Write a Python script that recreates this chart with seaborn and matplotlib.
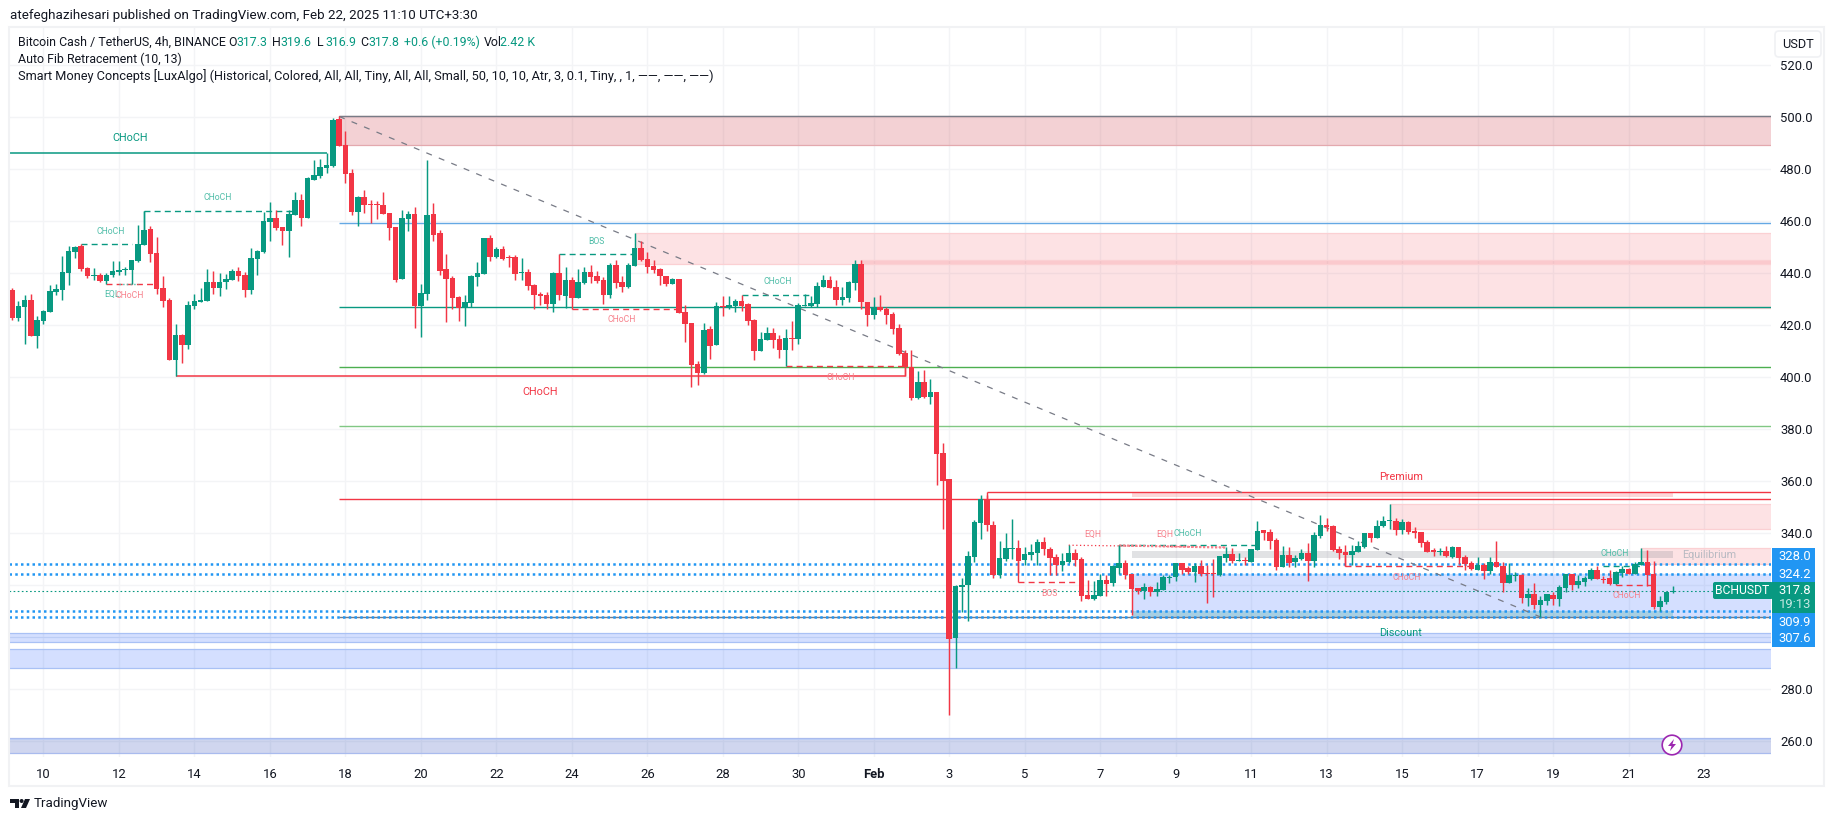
import numpy as np
import pandas as pd
import matplotlib
matplotlib.use("Agg")
import matplotlib.pyplot as plt
from matplotlib.patches import Rectangle, Circle, Polygon, FancyBboxPatch
import seaborn as sns

# BCHUSDT 4h candles, first one is Jan 9 04:00
opens = [
    433.5,422.7,426.9,429.6,415.8,421.5,425.0,432.7,433.5,440.0,
    448.1,450.4,441.9,438.9,439.2,436.9,439.2,440.4,441.2,441.2,
    444.6,450.8,456.9,447.7,434.2,429.6,406.5,416.2,412.3,427.3,
    428.9,429.2,436.5,434.2,436.5,437.3,440.8,439.2,433.5,445.4,
    448.1,459.6,461.2,457.7,456.2,462.3,468.1,461.2,475.8,477.3,
    480.4,481.2,499.2,489.2,478.5,463.5,469.2,466.5,466.5,466.2,
    463.1,457.7,437.7,460.8,462.7,427.3,431.9,462.7,455.4,441.5,
    438.1,430.8,426.5,428.5,438.5,439.6,453.5,446.2,449.2,446.2,
    446.2,440.0,440.4,435.4,431.9,431.5,428.1,440.0,431.2,437.3,
    430.4,436.2,440.4,438.9,437.3,431.5,443.1,436.5,434.6,442.7,
    449.6,445.4,442.7,441.5,438.9,435.8,437.7,425.0,420.8,405.0,
    401.5,418.5,412.3,427.3,426.5,427.3,429.2,428.1,421.9,410.0,
    414.2,416.9,414.6,410.4,415.0,414.6,427.3,427.3,428.1,434.6,
    437.3,434.6,429.6,430.4,436.2,443.5,428.9,423.9,426.9,426.2,
    424.2,418.9,409.2,403.8,391.9,398.1,392.3,394.2,370.8,360.8,
    299.6,319.2,320.0,330.8,343.9,353.1,343.1,323.9,330.0,333.9,
    334.2,329.6,331.5,332.3,336.5,333.9,330.8,327.7,328.9,332.3,
    330.0,316.2,314.6,315.8,321.9,320.8,326.5,328.5,324.2,318.9,
    317.7,319.2,317.3,318.1,322.7,323.1,328.5,326.5,325.0,327.3,
    324.6,324.6,323.9,330.4,331.9,329.2,329.2,328.9,333.5,341.2,
    340.4,337.3,326.9,331.5,328.9,330.0,332.3,329.2,338.9,343.1,
    342.7,333.9,332.7,331.5,332.7,334.6,340.0,338.1,342.7,344.6,
    344.6,341.2,344.2,340.8,340.4,336.5,333.5,332.7,333.1,330.8,
    334.6,330.8,328.5,325.8,327.7,325.4,328.8,327.3,320.8,323.5,
    323.9,315.0,316.5,312.3,313.8,316.2,314.6,318.8,324.2,320.0,
    321.2,322.3,325.8,322.3,322.7,320.4,324.6,326.2,324.2,327.7,
    328.8,324.2,311.5,313.5,317.3]
highs = [
    434.4,429.2,431.5,431.9,423.5,425.8,435.4,435.8,446.5,450.4,
    450.4,451.2,442.3,441.9,440.0,440.0,444.6,444.6,442.3,445.0,
    458.5,463.9,458.1,453.9,438.9,430.4,420.4,416.5,429.2,431.9,
    434.2,441.5,440.8,440.0,439.6,441.5,442.3,440.4,449.6,448.9,
    463.5,467.3,464.2,457.7,464.2,471.2,470.4,476.9,483.5,483.9,
    486.0,499.5,500.3,494.6,480.0,469.6,471.9,468.1,467.7,471.2,
    463.1,457.7,464.2,463.9,465.4,435.8,483.5,466.9,456.5,447.3,
    438.9,431.2,431.5,439.2,444.2,453.5,454.6,450.0,450.4,446.9,
    446.9,445.8,441.5,435.8,432.7,432.7,440.4,447.3,442.3,438.5,
    441.5,442.3,443.1,440.8,438.5,443.9,445.0,438.9,443.9,455.4,
    452.3,448.1,445.0,441.9,438.9,438.1,437.7,427.7,420.8,406.2,
    420.8,419.6,428.9,431.2,431.2,430.0,431.5,428.5,422.3,417.3,
    419.2,418.9,416.2,418.5,421.5,428.5,431.9,431.2,436.5,439.2,
    438.9,437.3,434.6,436.9,445.0,445.0,428.9,430.8,431.5,426.9,
    425.0,420.4,410.4,410.4,402.3,402.7,399.2,394.2,374.6,360.8,
    320.0,322.7,333.1,345.0,354.6,354.6,344.6,336.9,340.0,345.4,
    337.3,334.6,335.8,337.7,338.5,334.6,331.9,332.3,335.4,333.9,
    330.8,321.9,321.5,324.2,323.9,327.7,335.4,329.6,324.2,318.9,
    320.8,319.6,321.2,323.9,323.9,328.5,328.5,327.3,328.5,329.6,
    327.7,330.0,331.2,334.6,334.2,332.3,330.8,333.9,344.6,341.2,
    341.5,338.1,335.0,334.6,331.5,333.9,336.1,340.4,346.9,345.8,
    343.1,335.0,335.4,335.4,336.9,340.0,340.0,345.0,346.5,351.2,
    345.8,345.4,344.6,342.3,340.4,337.3,334.2,334.2,335.0,335.0,
    334.6,331.5,329.2,330.8,328.5,330.8,336.9,328.8,328.5,325.0,
    324.2,318.8,320.8,315.8,316.5,317.3,320.0,324.2,324.2,323.9,
    323.5,326.5,327.3,323.5,325.8,325.4,327.3,326.5,328.8,334.2,
    333.5,329.2,315.8,317.3,319.6]
lows = [
    421.9,421.5,412.7,415.8,411.2,420.4,425.0,431.5,429.6,435.4,
    445.8,440.8,438.1,437.3,436.5,435.8,438.5,439.2,439.2,435.8,
    444.2,450.8,444.2,431.9,426.9,406.5,400.4,405.4,410.8,426.2,
    428.9,429.2,431.9,431.2,433.9,437.3,436.9,430.8,431.9,439.2,
    447.7,452.3,456.5,450.8,446.2,462.3,458.1,461.2,475.8,476.5,
    478.3,480.8,488.9,474.6,462.3,458.1,463.1,459.2,460.8,462.7,
    452.7,436.5,437.7,456.2,418.9,415.4,429.6,452.3,439.2,421.2,
    426.2,421.5,419.6,426.9,435.0,439.6,444.6,445.8,445.0,442.3,
    437.3,437.3,433.5,426.2,427.7,426.2,425.0,429.6,426.5,426.2,
    430.4,435.8,436.2,436.2,428.1,430.4,434.2,432.7,434.2,442.7,
    444.6,440.0,440.0,435.4,435.0,435.8,424.6,413.5,396.2,396.9,
    401.2,406.9,412.3,423.5,426.2,425.0,425.4,420.0,406.5,410.0,
    414.2,411.2,407.3,404.2,410.4,412.7,427.3,426.9,426.9,434.6,
    434.2,427.7,427.7,428.9,433.5,426.2,419.6,422.3,425.4,420.4,
    416.5,408.5,400.4,391.2,391.5,391.9,389.6,358.5,341.5,270.0,
    288.1,309.6,306.2,328.9,337.7,340.8,322.7,322.7,329.2,330.0,
    324.5,327.7,329.6,327.7,331.5,323.9,323.9,325.4,328.5,327.3,
    313.9,314.6,314.2,315.8,315.8,319.6,324.2,322.3,308.5,316.5,
    314.6,315.8,315.8,318.1,320.8,321.5,324.2,324.2,321.2,323.5,
    313.1,315.4,323.5,328.9,328.5,329.2,327.7,328.9,333.5,337.3,
    333.9,325.8,326.9,326.9,326.9,329.6,321.5,326.9,338.1,340.8,
    333.1,330.0,327.3,327.7,332.7,334.2,336.5,338.1,342.3,341.5,
    339.2,339.6,339.6,338.1,334.6,332.7,331.2,331.5,330.8,330.4,
    328.1,325.8,325.8,325.8,322.3,324.2,326.9,317.3,320.8,321.5,
    313.1,311.9,310.8,307.7,312.3,312.3,311.9,317.3,318.1,318.8,
    319.6,321.9,322.3,320.8,320.0,320.4,323.1,324.2,324.2,327.7,
    319.6,310.8,310.0,312.7,316.9]
closes = [
    422.7,427.3,429.6,415.8,421.9,425.4,433.1,433.9,440.4,448.5,
    450.0,441.5,438.9,439.2,436.9,439.2,440.8,441.2,441.5,445.0,
    451.2,456.5,447.3,433.9,429.2,406.5,416.2,412.3,427.7,429.2,
    429.6,436.5,434.2,436.5,437.7,440.8,438.9,433.5,445.8,448.5,
    460.0,461.2,457.3,456.2,462.7,468.1,461.2,476.5,477.7,480.8,
    481.5,498.9,488.9,478.1,463.5,469.2,466.2,466.2,466.2,462.7,
    457.3,437.3,461.2,462.7,427.3,432.3,462.3,454.6,440.8,437.7,
    430.4,426.5,428.9,438.9,440.0,453.5,446.2,449.2,445.4,445.8,
    439.6,440.4,435.0,431.5,431.2,428.1,440.0,431.5,437.3,430.4,
    436.5,440.4,438.5,436.9,431.5,443.1,436.2,434.6,443.1,449.6,
    445.0,442.3,441.2,438.9,435.8,437.7,424.6,420.4,404.6,401.5,
    418.1,411.9,427.3,426.9,427.7,429.2,427.3,421.5,410.0,414.6,
    416.9,414.2,410.4,415.0,414.6,427.7,427.7,428.5,435.0,437.3,
    434.2,429.6,430.8,436.5,443.5,428.9,423.9,426.9,425.8,423.9,
    418.5,408.9,403.7,391.8,398.1,392.3,394.2,370.4,360.0,299.2,
    319.6,320.0,331.2,344.2,353.1,343.1,323.9,330.4,334.2,334.2,
    329.2,331.9,332.7,336.5,333.9,330.4,327.7,329.2,332.3,329.6,
    315.8,314.6,316.2,321.9,320.4,327.3,328.5,323.9,318.5,317.7,
    319.2,317.3,318.5,323.1,323.1,328.5,325.8,325.0,327.3,324.2,
    324.2,324.2,331.2,331.9,329.2,329.6,329.1,333.9,340.8,340.0,
    336.9,326.9,331.5,328.5,330.4,332.3,329.2,339.2,343.1,342.3,
    333.5,332.3,331.5,333.1,335.0,340.0,338.1,342.7,344.6,345.0,
    341.2,344.2,340.4,340.0,336.1,332.7,332.7,333.1,331.2,334.6,
    330.4,328.1,326.2,327.7,325.4,328.8,326.9,320.8,323.9,323.9,
    315.0,316.5,312.3,314.2,316.5,314.6,319.2,324.2,320.0,321.5,
    322.7,325.8,322.3,321.9,320.4,325.0,326.2,324.2,328.1,328.8,
    323.9,311.5,313.8,317.3,317.8]

date_labels = ["10", "12", "14", "16", "18", "20", "22", "24", "26", "28", "30", "Feb",
               "3", "5", "7", "9", "11", "13", "15", "17", "19", "21", "23"]
date_ticks = [5 + 12 * i for i in range(len(date_labels))]
price_ticks = list(range(260, 521, 20))

# zones: start bar (None = left edge), low, high, fill, alpha, edge
zone_start = [52, 99, 135, 219, 259, 178, None, None, None]
zone_low = [489.2, 443.3, 426.7, 341.7, 328.0, 307.7, 298.0, 288.0, 255.4]
zone_high = [500.2, 455.3, 444.9, 351.0, 334.2, 324.2, 301.4, 295.3, 261.0]
zone_fill = ["#d04a55", "#f23645", "#f23645", "#f23645", "#f23645", "#2962ff",
             "#2962ff", "#2962ff", "#2948b8"]
zone_alpha = [0.25, 0.14, 0.14, 0.14, 0.14, 0.2, 0.2, 0.2, 0.22]
zone_edge = ["#e3a9ae", "#fbd0d3", "#fbd0d3", "#fbd0d3", "#fbd0d3", "#d4e2fb",
             "#a9c1f5", "#a9c1f5", "#a9bbee"]

# auto fib levels, all start at the swing high
fib_levels = [500.2, 459.1, 426.8, 403.7, 381.0, 353.0, 307.7]
fib_colors = ["#787b86", "#64a8e4", "#089981", "#4caf50", "#81c784", "#f23645", "#787b86"]

# price lines on the right scale
blue_levels = [328.0, 324.2, 309.9, 307.6]
last_close = 317.8

# structure lines: start bar, end bar, price
green_dash = [(11, 19, 451.0), (21, 45, 463.85), (87, 99, 447.2), (116, 127, 431.4),
              (176, 198, 335.3), (253, 259, 327.2)]
red_dash = [(15, 23, 435.8), (89, 106, 426.0), (123, 142, 404.1), (160, 170, 321.0),
            (212, 232, 327.2), (255, 261, 319.9)]

swing_bars = [52, 243]
swing_prices = [500.2, 307.7]

df = pd.DataFrame({"open": opens, "high": highs, "low": lows, "close": closes})
df["bar"] = np.arange(len(df))
df["bottom"] = df[["open", "close"]].min(axis=1)
df["body"] = (df["open"] - df["close"]).abs().clip(lower=0.45)
up = df[df["close"] >= df["open"]]
down = df[df["close"] < df["open"]]

GREEN = "#089981"
RED = "#f23645"
BLUE = "#2196f3"
TEXT = "#131722"
SOFT_GREEN = "#4fbda8"
SOFT_RED = "#f7808b"

sns.set_theme(style="white", rc={"axes.edgecolor": "white"})
plt.rcParams["font.family"] = ["Roboto", "DejaVu Sans"]

fig = plt.figure(figsize=(18.35, 8.21), dpi=100, facecolor="white")
ax = fig.add_axes([9 / 1835, 1 - 757 / 821, (1771 - 9) / 1835, (757 - 27) / 821])
x_min, x_max = -0.48, 279.65

# zones
for start, low, high, fill, alpha, edge in zip(zone_start, zone_low, zone_high, zone_fill, zone_alpha, zone_edge):
    x0 = x_min if start is None else start
    ax.fill_between([x0, x_max], low, high, color=fill, alpha=alpha, lw=0, zorder=1)
    ax.hlines([low, high], x0, x_max, color=edge, lw=0.9, zorder=1.1)
ax.hlines([300.0, 260.7], x_min, x_max, color="#bccdf5", lw=0.7, zorder=1.1)

# premium, equilibrium and discount boxes
ax.fill_between([178, 264], 353.8, 355.5, color=RED, alpha=0.2, lw=0, zorder=1)
ax.fill_between([178, 264], 330.5, 333.1, color="#787b86", alpha=0.22, lw=0, zorder=1)
ax.fill_between([178, 264], 307.8, 310.0, color=GREEN, alpha=0.22, lw=0, zorder=1)

# fib levels
for level, color in zip(fib_levels, fib_colors):
    ax.hlines(level, 52, x_max, color=color, lw=1.0, zorder=2)
ax.hlines(355.6, 155, x_max, color=RED, lw=1.0, zorder=2)
ax.vlines(155, 353, 355.6, color=RED, lw=1.0, zorder=2)

# price lines
ax.hlines(blue_levels, x_min, x_max, color=BLUE, lw=1.8, linestyles=[(0, (1.0, 1.3))], zorder=2.5)
ax.hlines(last_close, x_min, x_max, color=GREEN, lw=0.8, linestyles=[(0, (1.5, 2.2))], zorder=2.5)

# CHoCH lines
ax.hlines(486, x_min, 50, color=GREEN, lw=1.1, zorder=2.5)
ax.hlines(400.3, 26, 142, color=RED, lw=1.1, zorder=2.5)

for start, end, price in green_dash:
    ax.hlines(price, start, end, color=GREEN, lw=1.0, linestyles=[(0, (4.3, 3))], zorder=2.6)
for start, end, price in red_dash:
    ax.hlines(price, start, end, color=RED, lw=1.0, linestyles=[(0, (4.3, 3))], zorder=2.6)

# steps at the start of the dashed lines
ax.vlines([21, 176], [456.5, 328.5], [463.85, 335.3], color=GREEN, lw=1.0, zorder=2.6)
ax.vlines([142, 160, 212, 255, 261], [400.3, 321.0, 327.2, 319.9, 319.9],
          [404.1, 329.2, 331.5, 322.0, 323.9], color=RED, lw=1.0, zorder=2.6)

# equal highs
ax.plot([168, 193], [335.3, 334.5], color=RED, lw=0.9, ls=(0, (1, 2)), zorder=2.6)
ax.plot([176, 193], [335.2, 334.4], color=SOFT_RED, lw=1.6, ls=(0, (1, 0.8)), zorder=2.6)
ax.hlines(435.8, 17, 20, color=SOFT_GREEN, lw=1.0, linestyles=":", zorder=2.6)

# fib trend line
trend = pd.DataFrame({"bar": swing_bars, "price": swing_prices})
sns.lineplot(data=trend, x="bar", y="price", ax=ax, color="#787b86", lw=0.9,
             linestyle=(0, (4.8, 6.0)), zorder=3, errorbar=None)

# candles
ax.vlines(up["bar"], up["low"], up["high"], color=GREEN, lw=1.05, zorder=4)
ax.vlines(down["bar"], down["low"], down["high"], color=RED, lw=1.05, zorder=4)
sns.barplot(data=up, x="bar", y="body", bottom=up["bottom"].values, color=GREEN, saturation=1,
            native_scale=True, width=0.88, errorbar=None, linewidth=0, zorder=5, ax=ax)
sns.barplot(data=down, x="bar", y="body", bottom=down["bottom"].values, color=RED, saturation=1,
            native_scale=True, width=0.88, errorbar=None, linewidth=0, zorder=5, ax=ax)

ax.set_xlim(x_min, x_max)
ax.set_ylim(253.85, 534.6)
ax.set_xlabel("")
ax.set_ylabel("")
ax.set_xticks(date_ticks)
ax.set_xticklabels(date_labels)
ax.yaxis.tick_right()
ax.set_yticks(price_ticks)
ax.set_yticklabels([f"{p:.1f}" for p in price_ticks])
ax.tick_params(axis="x", length=0, pad=8, labelsize=9.4, labelcolor=TEXT)
ax.tick_params(axis="y", length=0, pad=6.5, labelsize=9.4, labelcolor=TEXT)
ax.set_axisbelow(True)
ax.grid(True, color="#f3f4f6", lw=1.0)
for label in ax.get_xticklabels():
    if label.get_text() == "Feb":
        label.set_fontweight("bold")
sns.despine(ax=ax, left=True, bottom=True, right=True, top=True)

# overlay in picture pixels for the page furniture
ov = fig.add_axes([0, 0, 1, 1])
ov.set_xlim(0, 1835)
ov.set_ylim(821, 0)
ov.axis("off")
ov.patch.set_alpha(0)

ov.add_patch(Rectangle((9, 27), 1815, 759, fill=False, edgecolor="#f1f2f4", lw=1.5))
ov.text(10, 15, "atefeghazihesari published on TradingView.com, Feb 22, 2025 11:10 UTC+3:30",
        fontsize=9.6, color=TEXT, va="center")

# legend rows
ov.text(18, 42, "Bitcoin Cash / TetherUS, 4h, BINANCE", fontsize=8.9, color=TEXT, va="center")
for x, head, value in [(228, "O", "317.3"), (272, "H", "319.6"), (317, "L", "316.9"), (360, "C", "317.8")]:
    ov.text(x, 42, head, fontsize=8.9, color=TEXT, va="center")
    ov.text(x + 8, 42, value, fontsize=8.9, color=GREEN, va="center")
ov.text(404, 42, "+0.6 (+0.19%)", fontsize=8.9, color=GREEN, va="center")
ov.text(484, 42, "Vol", fontsize=8.9, color=TEXT, va="center")
ov.text(500, 42, "2.42 K", fontsize=8.9, color=GREEN, va="center")
ov.text(18, 59, "Auto Fib Retracement (10, 13)", fontsize=8.9, color=TEXT, va="center")
ov.text(18, 76, "Smart Money Concepts [LuxAlgo] (Historical, Colored, All, All, Tiny, All, All, Small, "
        "50, 10, 10, Atr, 3, 0.1, Tiny, , 1, \u2014\u2014, \u2014\u2014, \u2014\u2014)",
        fontsize=9.15, color=TEXT, va="center")

# chart labels
big_labels = [(130, 138, "CHoCH", GREEN), (540, 392, "CHoCH", RED), (1401, 477, "Premium", RED),
              (1401, 633, "Discount", GREEN), (1709, 555, "Equilibrium", "#b8bac2")]
for x, y, text, color in big_labels:
    ov.text(x, y, text, fontsize=7.8, color=color, ha="center", va="center")
small_labels = [(111, 232, "CHoCH", SOFT_GREEN), (218, 198, "CHoCH", SOFT_GREEN), (112, 294, "EQL", SOFT_GREEN),
                (130, 296, "CHoCH", SOFT_RED), (596, 242, "BOS", SOFT_GREEN), (622, 320, "CHoCH", SOFT_RED),
                (778, 282, "CHoCH", SOFT_GREEN), (841, 378, "CHoCH", SOFT_RED), (1049, 594, "BOS", SOFT_RED),
                (1093, 534, "EQH", SOFT_RED), (1165, 534, "EQH", SOFT_RED), (1188, 534, "CHoCH", SOFT_GREEN),
                (1407, 577, "CHoCH", SOFT_RED), (1615, 554, "CHoCH", SOFT_GREEN), (1627, 596, "CHoCH", SOFT_RED)]
for x, y, text, color in small_labels:
    ov.text(x, y, text, fontsize=6.2, color=color, ha="center", va="center")

# tags on the price scale
ov.add_patch(FancyBboxPatch((1775, 31), 46, 26, boxstyle="round,pad=0,rounding_size=4",
                            facecolor="white", edgecolor="#f0f1f4", lw=1.2))
ov.text(1798, 44.5, "USDT", fontsize=9.2, color=TEXT, ha="center", va="center")
ov.add_patch(Rectangle((1772, 548), 43, 34, facecolor=BLUE, lw=0))
ov.add_patch(Rectangle((1772, 582), 43, 31, facecolor=GREEN, lw=0))
ov.add_patch(Rectangle((1772, 613), 43, 34, facecolor=BLUE, lw=0))
ov.add_patch(FancyBboxPatch((1713, 582), 60, 17, boxstyle="round,pad=0,rounding_size=2",
                            facecolor=GREEN, lw=0))
ov.text(1742, 590.5, "BCHUSDT", fontsize=8.7, color="white", ha="center", va="center")
for y, text, color in [(557, "328.0", "white"), (574, "324.2", "white"), (590, "317.8", "white"),
                       (605, "19:13", "#c5e8e2"), (622, "309.9", "white"), (639, "307.6", "white")]:
    ov.text(1795, y, text, fontsize=9.4, color=color, ha="center", va="center")

# flash icon
ov.add_patch(Circle((1672, 745), 9.8, facecolor="white", edgecolor="#9c27b0", lw=1.2))
ov.add_patch(Polygon([(1674, 739), (1668, 746), (1671.5, 746), (1670, 751), (1676, 744), (1672.5, 744)],
                     facecolor="#9c27b0", lw=0))

# TradingView mark
ov.add_patch(Polygon([(10, 799), (19, 799), (19, 808), (14.5, 808), (14.5, 803), (10, 803)], facecolor=TEXT, lw=0))
ov.add_patch(Circle((21.6, 801), 2.0, facecolor=TEXT, lw=0))
ov.add_patch(Polygon([(25, 799), (30, 799), (26, 808), (21, 808)], facecolor=TEXT, lw=0))
ov.text(33.5, 804, "TradingView", fontsize=9.6, color=TEXT, va="center")

fig.savefig("out.png", dpi=100, facecolor="white")
